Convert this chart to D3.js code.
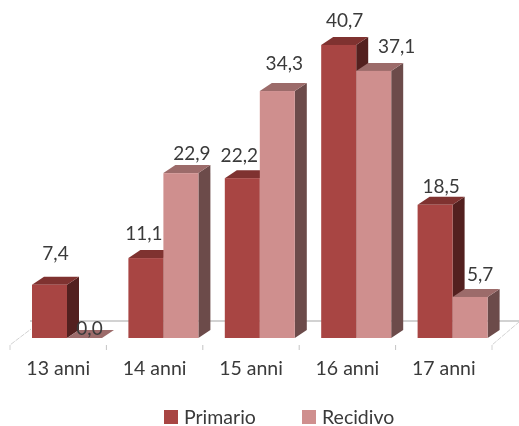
<!DOCTYPE html>
<html>
<head>
<meta charset="utf-8">
<script src="https://cdn.jsdelivr.net/npm/d3@7"></script>
<style>
html,body{margin:0;padding:0;background:#fff;}
svg{display:block;filter:blur(0.55px);}
text{font-family:Lato,"Open Sans",sans-serif;fill:#3a3a3a;}
</style>
</head>
<body>
<svg id="chart" width="519" height="426"></svg>
<script>
const categories = ["13 anni","14 anni","15 anni","16 anni","17 anni"];
const seriesNames = ["Primario","Recidivo"];
const primario = [7.4,11.1,22.2,40.7,18.5];
const recidivo = [0.0,22.9,34.3,37.1,5.7];

const palette = {
  Primario:{front:"#a84543",top:"#7f3230",side:"#53201f"},
  Recidivo:{front:"#cf8f8e",top:"#9c6b6a",side:"#6c4b4a"}
};
const seriesValues = {Primario:primario,Recidivo:recidivo};

const svg = d3.select("#chart");
const x0 = d3.scaleBand().domain(categories).range([10,492]);
const x1 = d3.scaleBand().domain(seriesNames).range([22,92]);
const y = d3.scaleLinear().domain([0,45]).range([338,14]);
const depthX = 12, depthY = 8;

// floor
const base = y(0), backY = base - 17;
const floor = svg.append("g").attr("fill","none");
floor.append("line").attr("x1",30).attr("x2",519).attr("y1",backY).attr("y2",backY)
  .attr("stroke","#a6a6a6").attr("stroke-width",1.2);
floor.append("path").attr("d",`M10,350L10,345L31,329`).attr("stroke","#d2d2d2").attr("stroke-dasharray","5 1");
floor.append("path").attr("d",`M${x0.range()[1]},350L${x0.range()[1]},345L519,322`).attr("stroke","#d2d2d2").attr("stroke-dasharray","5 1");
floor.selectAll("line.tick").data(categories.slice(1)).join("line").attr("class","tick")
  .attr("x1",d=>x0(d)).attr("x2",d=>x0(d)).attr("y1",345).attr("y2",350)
  .attr("stroke","#c4c4c4");

// 3D bars
categories.forEach((cat,i)=>{
  const g = svg.append("g").attr("transform",`translate(${x0(cat)},0)`);
  seriesNames.forEach(name=>{
    const v = seriesValues[name][i], c = palette[name];
    const l = x1(name), r = l + x1.bandwidth(), t = y(v);
    g.append("path").attr("fill",c.side)
      .attr("d",`M${r},${t}L${r+depthX},${t-depthY}L${r+depthX},${base-depthY}L${r},${base}Z`);
    g.append("path").attr("fill",c.top)
      .attr("d",`M${l},${t}L${l+depthX},${t-depthY}L${r+depthX},${t-depthY}L${r},${t}Z`);
    if(v>0) g.append("rect").attr("fill",c.front)
      .attr("x",l).attr("y",t).attr("width",x1.bandwidth()).attr("height",base-t);
  });
});

// value labels (hand-placed like the source chart: dx, gap above the bar top)
const labelNudge = {
  Primario:[[6,25],[-2,18],[-3,16],[6,18],[6,12]],
  Recidivo:[[5,3],[11,13],[7,21],[23,18],[10,16]]
};
categories.forEach((cat,i)=>{
  seriesNames.forEach(name=>{
    const v = seriesValues[name][i], [dx,gap] = labelNudge[name][i];
    svg.append("text")
      .attr("x",x0(cat)+x1(name)+x1.bandwidth()/2+dx)
      .attr("y",y(v)-gap)
      .attr("text-anchor","middle").attr("font-size",19)
      .text(v.toFixed(1).replace(".",","));
  });
});

// category axis
const axis = svg.append("g").attr("transform","translate(0,375)")
  .call(d3.axisBottom(x0).tickSize(0).tickPadding(0));
axis.select(".domain").remove();
axis.attr("font-family",null);
axis.selectAll("text").attr("font-size",19.5).attr("y",0).attr("dy",0);

// legend
const legendX = d3.scaleOrdinal().domain(seriesNames).range([164,302]);
const legend = svg.selectAll("g.legend").data(seriesNames).join("g").attr("class","legend")
  .attr("transform",d=>`translate(${legendX(d)},410)`);
legend.append("rect").attr("width",14).attr("height",14).attr("fill",d=>palette[d].front);
legend.append("text").attr("x",d=>d==="Primario"?20:20).attr("y",13.5).attr("font-size",19.5).text(d=>d);
</script>
</body>
</html>
